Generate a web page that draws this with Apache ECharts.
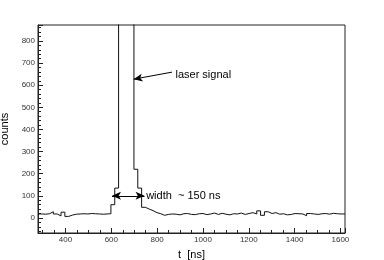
<!DOCTYPE html>
<html><head><meta charset="utf-8">
<script src="https://cdn.jsdelivr.net/npm/echarts@6/dist/echarts.min.js"></script>
<style>html,body{margin:0;padding:0;background:#fff}#c{width:384px;height:260px}</style>
</head><body><div id="c"></div>
<script>
// Histogram: 80 bins from 280 to 1620 ns
const binStart = 280;
const binEnd = 1620;
const counts = [
  18,17,19,28,18,9,26,7,13,17,
  18,19,18,20,19,18,17,18,19,60,
  135,1500,1800,1700,1400,220,135,48,40,33,
  24,19,12,16,18,17,14,19,20,16,
  15,19,20,15,18,22,16,21,17,14,
  19,18,22,16,20,24,18,32,12,28,
  20,24,17,19,14,16,20,19,18,10,
  20,18,16,19,20,17,21,19,18,18
];
const xTicks = [400,600,800,1000,1200,1400,1600];
const yTicks = [0,100,200,300,400,500,600,700,800];
const annotations = {
  laser: {text:'laser signal', from:[865,659], to:[697,627], label:[880,645]},
  width: {text:'width  ~ 150 ns', from:[603,100], to:[745,100], label:[752,100]}
};

const binWidth = (binEnd - binStart) / counts.length;
const histData = counts.map((v,i)=>[binStart + i*binWidth, v]);
histData.push([binEnd, counts[counts.length-1]]);

const font = 'Liberation Sans, Arial, Helvetica, sans-serif';
const chart = echarts.init(document.getElementById('c'), null, {renderer:'canvas'});
chart.setOption({
  animation:false,
  backgroundColor:'#fff',
  grid:{left:38,right:39,top:25,bottom:27,containLabel:false,outerBoundsMode:'none',show:true,borderColor:'#222',borderWidth:1,backgroundColor:'transparent'},
  xAxis:{
    type:'value', min:binStart, max:binEnd, splitNumber:7,
    name:'t  [ns]', nameLocation:'middle', nameGap:16,
    nameTextStyle:{fontFamily:font,fontSize:11,color:'#000'},
    axisLine:{show:true,onZero:false,lineStyle:{color:'#222',width:1}},
    axisTick:{show:true,inside:true,length:5,lineStyle:{color:'#222'}},
    minorTick:{show:true,splitNumber:4,length:3,lineStyle:{color:'#222'}},
    splitLine:{show:false},
    axisLabel:{fontFamily:font,fontSize:8,color:'#333',margin:3,showMinLabel:false,showMaxLabel:false,
      formatter:v=> xTicks.includes(v)? String(v):''}
  },
  yAxis:{
    type:'value', min:-68, max:872, splitNumber:8,
    name:'counts', nameLocation:'middle', nameGap:24, nameRotate:90,
    nameTextStyle:{fontFamily:font,fontSize:11,color:'#000'},
    axisLine:{show:true,onZero:false,lineStyle:{color:'#222',width:1}},
    axisTick:{show:true,inside:true,length:5,lineStyle:{color:'#222'}},
    minorTick:{show:true,splitNumber:5,length:3,lineStyle:{color:'#222'}},
    splitLine:{show:false},
    axisLabel:{fontFamily:font,fontSize:8,color:'#333',margin:3,showMinLabel:false,showMaxLabel:false,
      formatter:v=> yTicks.includes(v)? String(v):''}
  },
  series:[{
    type:'line', data:histData, step:'end', showSymbol:false, symbol:'none',
    lineStyle:{color:'#111',width:1}, clip:true,
    markLine:{
      silent:true, animation:false,
      lineStyle:{color:'#000',width:1,type:'solid'},
      label:{show:false},
      data:[
        [{coord:annotations.laser.from, symbol:'none'},{coord:annotations.laser.to, symbol:'arrow', symbolSize:[6,9]}],
        [{coord:annotations.width.from, symbol:'arrow', symbolSize:[6,9]},{coord:annotations.width.to, symbol:'arrow', symbolSize:[6,9]}]
      ]
    },
    markPoint:{
      silent:true, animation:false, symbol:'circle', symbolSize:0,
      label:{show:true,position:'right',distance:0,fontFamily:font,fontSize:11,color:'#000'},
      data:[
        {coord:annotations.laser.label, value:annotations.laser.text, label:{formatter:annotations.laser.text}},
        {coord:annotations.width.label, value:annotations.width.text, label:{formatter:annotations.width.text}}
      ]
    }
  }]
});
</script></body></html>
